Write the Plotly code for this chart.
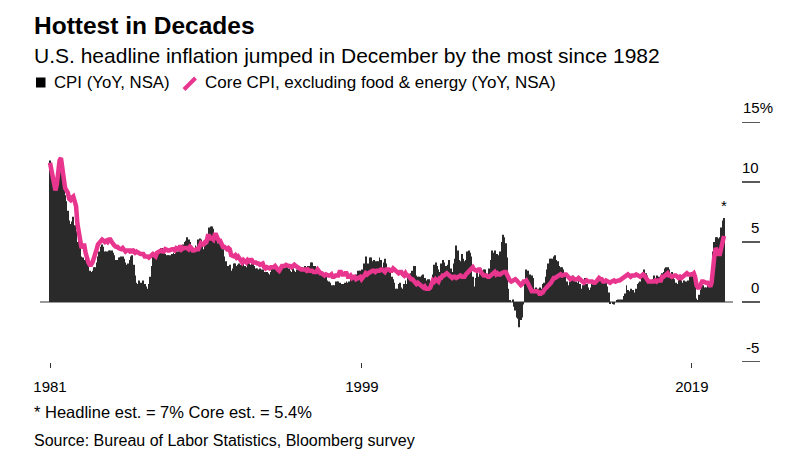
import plotly.graph_objects as go

# ---------------- data ----------------
start_year = 1981
end_year = 2021

cpi_yoy = [
    11.8, 11.4, 10.5, 10.0, 9.8, 9.6, 10.8, 10.8, 11.0, 10.1, 9.6, 8.9,   # 1981
    8.4, 7.6, 6.8, 6.5, 6.7, 7.1, 6.4, 5.9, 5.0, 5.1, 4.6, 3.8,           # 1982
    3.7, 3.5, 3.6, 3.9, 3.5, 2.6, 2.5, 2.6, 2.9, 2.9, 3.3, 3.8,           # 1983
    4.2, 4.6, 4.8, 4.6, 4.2, 4.2, 4.2, 4.3, 4.3, 4.3, 4.1, 3.9,           # 1984
    3.5, 3.5, 3.7, 3.7, 3.8, 3.8, 3.6, 3.3, 3.1, 3.2, 3.5, 3.8,           # 1985
    3.9, 3.1, 2.2, 1.6, 1.5, 1.8, 1.6, 1.6, 1.8, 1.5, 1.3, 1.1,           # 1986
    1.5, 2.1, 3.0, 3.8, 3.9, 3.7, 3.9, 4.3, 4.4, 4.5, 4.5, 4.4,           # 1987
    4.0, 3.9, 3.9, 3.9, 3.9, 4.0, 4.1, 4.0, 4.2, 4.2, 4.2, 4.4,           # 1988
    4.7, 4.8, 5.0, 5.1, 5.4, 5.2, 5.0, 4.7, 4.3, 4.5, 4.7, 4.6,           # 1989
    5.2, 5.3, 5.2, 4.7, 4.4, 4.7, 4.8, 5.6, 6.2, 6.3, 6.3, 6.1,           # 1990
    5.7, 5.3, 4.9, 4.9, 5.0, 4.7, 4.4, 3.8, 3.4, 2.9, 3.0, 3.1,           # 1991
    2.6, 2.8, 3.2, 3.2, 3.0, 3.1, 3.2, 3.1, 3.0, 3.2, 3.0, 2.9,           # 1992
    3.3, 3.2, 3.1, 3.2, 3.2, 3.0, 2.8, 2.8, 2.7, 2.8, 2.7, 2.7,           # 1993
    2.5, 2.5, 2.5, 2.4, 2.3, 2.5, 2.8, 2.9, 3.0, 2.6, 2.7, 2.7,           # 1994
    2.8, 2.9, 2.9, 3.1, 3.2, 3.0, 2.8, 2.6, 2.5, 2.8, 2.6, 2.5,           # 1995
    2.7, 2.7, 2.8, 2.9, 2.9, 2.8, 3.0, 2.9, 3.0, 3.0, 3.3, 3.3,           # 1996
    3.0, 3.0, 2.8, 2.5, 2.2, 2.3, 2.2, 2.2, 2.2, 2.1, 1.8, 1.7,           # 1997
    1.6, 1.4, 1.4, 1.4, 1.7, 1.7, 1.7, 1.6, 1.5, 1.5, 1.5, 1.6,           # 1998
    1.7, 1.6, 1.7, 2.3, 2.1, 2.0, 2.1, 2.3, 2.6, 2.6, 2.6, 2.7,           # 1999
    2.7, 3.2, 3.8, 3.1, 3.2, 3.7, 3.7, 3.4, 3.5, 3.4, 3.4, 3.4,           # 2000
    3.7, 3.5, 2.9, 3.3, 3.6, 3.2, 2.7, 2.7, 2.6, 2.1, 1.9, 1.6,           # 2001
    1.1, 1.1, 1.5, 1.6, 1.2, 1.1, 1.5, 1.8, 1.5, 2.0, 2.2, 2.4,           # 2002
    2.6, 3.0, 3.0, 2.2, 2.1, 2.1, 2.1, 2.2, 2.3, 2.0, 1.8, 1.9,           # 2003
    1.9, 1.7, 1.7, 2.3, 3.1, 3.3, 3.0, 2.7, 2.5, 3.2, 3.5, 3.3,           # 2004
    3.0, 3.0, 3.1, 3.5, 2.8, 2.5, 3.2, 3.6, 4.7, 4.3, 3.5, 3.4,           # 2005
    4.0, 3.6, 3.4, 3.5, 4.2, 4.3, 4.1, 3.8, 2.1, 1.3, 2.0, 2.5,           # 2006
    2.1, 2.4, 2.8, 2.6, 2.7, 2.7, 2.4, 2.0, 2.8, 3.5, 4.3, 4.1,           # 2007
    4.3, 4.0, 4.0, 3.9, 4.2, 5.0, 5.6, 5.4, 4.9, 3.7, 1.1, 0.1,           # 2008
    0.0, 0.2, -0.4, -0.7, -1.3, -1.4, -2.1, -1.5, -1.3, -0.2, 1.8, 2.7,   # 2009
    2.6, 2.1, 2.3, 2.2, 2.0, 1.1, 1.2, 1.1, 1.1, 1.2, 1.1, 1.5,           # 2010
    1.6, 2.1, 2.7, 3.2, 3.6, 3.6, 3.6, 3.8, 3.9, 3.5, 3.4, 3.0,           # 2011
    2.9, 2.9, 2.7, 2.3, 1.7, 1.7, 1.4, 1.7, 2.0, 2.2, 1.8, 1.7,           # 2012
    1.6, 2.0, 1.5, 1.1, 1.4, 1.8, 2.0, 1.5, 1.2, 1.0, 1.2, 1.5,           # 2013
    1.6, 1.1, 1.5, 2.0, 2.1, 2.1, 2.0, 1.7, 1.7, 1.7, 1.3, 0.8,           # 2014
    -0.1, 0.0, -0.1, -0.2, 0.0, 0.1, 0.2, 0.2, 0.0, 0.2, 0.5, 0.7,        # 2015
    1.4, 1.0, 0.9, 1.1, 1.0, 1.0, 0.8, 1.1, 1.5, 1.6, 1.7, 2.1,           # 2016
    2.5, 2.7, 2.4, 2.2, 1.9, 1.6, 1.7, 1.9, 2.2, 2.0, 2.2, 2.1,           # 2017
    2.1, 2.2, 2.4, 2.5, 2.8, 2.9, 2.9, 2.7, 2.3, 2.5, 2.2, 1.9,           # 2018
    1.6, 1.5, 1.9, 2.0, 1.8, 1.6, 1.8, 1.7, 1.7, 1.8, 2.1, 2.3,           # 2019
    2.5, 2.3, 1.5, 0.3, 0.1, 0.6, 1.0, 1.3, 1.4, 1.2, 1.2, 1.4,           # 2020
    1.4, 1.7, 2.6, 4.2, 5.0, 5.4, 5.4, 5.3, 5.4, 6.2, 6.8, 7.0,           # 2021
]

core_yoy = [
    11.6, 11.0, 10.3, 9.6, 9.3, 9.8, 11.0, 11.8, 12.0, 11.0, 10.2, 9.5,   # 1981
    9.3, 9.1, 8.6, 8.5, 8.7, 8.8, 8.4, 8.0, 6.5, 5.9, 5.3, 4.5,           # 1982
    4.7, 4.7, 4.1, 3.5, 3.3, 3.1, 3.1, 3.3, 3.8, 4.2, 4.4, 4.8,           # 1983
    5.0, 5.1, 5.2, 5.1, 5.0, 5.1, 5.0, 5.2, 5.2, 5.0, 4.8, 4.7,           # 1984
    4.6, 4.6, 4.5, 4.4, 4.4, 4.5, 4.4, 4.2, 4.3, 4.3, 4.3, 4.1,           # 1985
    4.4, 4.2, 4.1, 4.2, 4.1, 4.0, 4.0, 4.0, 4.0, 3.8, 3.8, 3.8,           # 1986
    3.7, 3.8, 3.9, 4.0, 3.9, 3.8, 4.1, 4.2, 4.2, 4.3, 4.2, 4.2,           # 1987
    4.4, 4.3, 4.3, 4.3, 4.4, 4.4, 4.4, 4.3, 4.5, 4.4, 4.4, 4.7,           # 1988
    4.4, 4.5, 4.5, 4.5, 4.5, 4.4, 4.6, 4.5, 4.3, 4.3, 4.4, 4.4,           # 1989
    4.4, 4.6, 4.9, 4.8, 4.8, 5.0, 5.0, 5.5, 5.5, 5.3, 5.3, 5.2,           # 1990
    5.6, 5.6, 5.2, 5.1, 5.1, 4.8, 4.6, 4.6, 4.5, 4.4, 4.5, 4.4,           # 1991
    3.9, 3.8, 3.8, 3.9, 3.7, 3.8, 3.6, 3.4, 3.3, 3.5, 3.4, 3.3,           # 1992
    3.5, 3.4, 3.5, 3.5, 3.3, 3.3, 3.3, 3.2, 3.2, 3.1, 3.2, 3.2,           # 1993
    2.9, 2.8, 2.9, 2.8, 2.8, 2.9, 2.9, 2.9, 3.0, 2.8, 2.7, 2.6,           # 1994
    2.9, 3.0, 3.0, 3.0, 3.1, 3.0, 3.0, 3.0, 2.9, 3.0, 3.1, 3.0,           # 1995
    2.9, 2.9, 2.7, 2.7, 2.7, 2.7, 2.7, 2.6, 2.7, 2.6, 2.6, 2.6,           # 1996
    2.5, 2.5, 2.5, 2.7, 2.5, 2.4, 2.4, 2.3, 2.2, 2.3, 2.2, 2.2,           # 1997
    2.2, 2.3, 2.1, 2.1, 2.2, 2.2, 2.2, 2.5, 2.5, 2.3, 2.3, 2.4,           # 1998
    2.4, 2.1, 2.1, 2.2, 2.0, 2.1, 2.1, 1.9, 2.0, 2.1, 2.1, 1.9,           # 1999
    2.0, 2.2, 2.4, 2.3, 2.4, 2.5, 2.5, 2.6, 2.6, 2.5, 2.6, 2.6,           # 2000
    2.6, 2.7, 2.7, 2.6, 2.5, 2.7, 2.7, 2.7, 2.6, 2.6, 2.8, 2.7,           # 2001
    2.6, 2.6, 2.4, 2.5, 2.5, 2.3, 2.2, 2.4, 2.2, 2.2, 2.0, 1.9,           # 2002
    1.9, 1.7, 1.7, 1.5, 1.6, 1.5, 1.5, 1.3, 1.2, 1.3, 1.1, 1.1,           # 2003
    1.1, 1.2, 1.6, 1.8, 1.7, 1.9, 1.8, 1.7, 2.0, 2.0, 2.2, 2.2,           # 2004
    2.3, 2.4, 2.3, 2.2, 2.2, 2.0, 2.1, 2.1, 2.0, 2.1, 2.1, 2.2,           # 2005
    2.1, 2.1, 2.1, 2.3, 2.4, 2.6, 2.7, 2.8, 2.9, 2.7, 2.6, 2.6,           # 2006
    2.7, 2.7, 2.5, 2.3, 2.2, 2.2, 2.2, 2.1, 2.1, 2.2, 2.3, 2.4,           # 2007
    2.5, 2.3, 2.4, 2.3, 2.3, 2.4, 2.5, 2.5, 2.5, 2.2, 2.0, 1.8,           # 2008
    1.7, 1.8, 1.8, 1.9, 1.8, 1.7, 1.5, 1.4, 1.5, 1.7, 1.7, 1.8,           # 2009
    1.6, 1.3, 1.1, 0.9, 0.9, 0.9, 0.9, 0.9, 0.8, 0.6, 0.8, 0.8,           # 2010
    1.0, 1.1, 1.2, 1.3, 1.5, 1.6, 1.8, 2.0, 2.0, 2.1, 2.2, 2.2,           # 2011
    2.3, 2.2, 2.3, 2.3, 2.3, 2.2, 2.1, 1.9, 2.0, 2.0, 1.9, 1.9,           # 2012
    1.9, 2.0, 1.9, 1.7, 1.7, 1.6, 1.7, 1.8, 1.7, 1.7, 1.7, 1.7,           # 2013
    1.6, 1.6, 1.7, 1.8, 2.0, 1.9, 1.9, 1.7, 1.7, 1.8, 1.7, 1.6,           # 2014
    1.6, 1.7, 1.8, 1.8, 1.7, 1.8, 1.8, 1.8, 1.9, 1.9, 2.0, 2.1,           # 2015
    2.2, 2.3, 2.2, 2.1, 2.2, 2.2, 2.2, 2.3, 2.2, 2.1, 2.1, 2.2,           # 2016
    2.3, 2.2, 2.0, 1.9, 1.7, 1.7, 1.7, 1.7, 1.7, 1.8, 1.7, 1.8,           # 2017
    1.8, 1.8, 2.1, 2.1, 2.2, 2.3, 2.4, 2.2, 2.2, 2.1, 2.2, 2.2,           # 2018
    2.2, 2.1, 2.0, 2.1, 2.0, 2.1, 2.2, 2.4, 2.4, 2.3, 2.3, 2.3,           # 2019
    2.3, 2.4, 2.1, 1.4, 1.2, 1.2, 1.6, 1.7, 1.7, 1.6, 1.6, 1.6,           # 2020
    1.4, 1.3, 1.6, 3.0, 3.8, 4.5, 4.3, 4.0, 4.0, 4.6, 4.9, 5.5,           # 2021
]

months = [f"{y}-{m:02d}-01" for y in range(start_year, end_year + 1) for m in range(1, 13)]

x_tick_vals = ["1981-01-01", "1999-12-10", "2019-12-20"]
x_tick_text = ["1981", "1999", "2019"]
y_tick_vals = [15, 10, 5, 0, -5]
y_tick_text = ["15", "10", "5", "0", "-5"]
y_tick_suffix = ["%", "", "", "", ""]

title = "Hottest in Decades"
subtitle = "U.S. headline inflation jumped in December by the most since 1982"
legend_cpi = "CPI (YoY, NSA)"
legend_core = "Core CPI, excluding food & energy (YoY, NSA)"
footnote = "* Headline est. = 7% Core est. = 5.4%"
source = "Source: Bureau of Labor Statistics, Bloomberg survey"

# ---------------- layout helpers ----------------
W, H = 800, 460
PL, PR, PT, PB = 40, 733, 122, 362   # plot area in pixels
FONT = "Liberation Sans, Arial, Helvetica, sans-serif"
PINK = "#e8368f"
BAR = "#2a2a2a"


def px_x(px):
    return (px - PL) / (PR - PL)


def px_y(py):
    return (PB - py) / (PB - PT)


fig = go.Figure()
fig.add_trace(go.Bar(x=months, y=cpi_yoy, marker=dict(color=BAR, line=dict(width=0)),
                     name=legend_cpi, showlegend=False, hoverinfo="skip"))
fig.add_trace(go.Scatter(x=months, y=core_yoy, mode="lines",
                         line=dict(color=PINK, width=4.5), name=legend_core, showlegend=False,
                         hoverinfo="skip"))

annotations = []
shapes = []

# Title block
annotations.append(dict(text=f"<b>{title}</b>", xref="paper", yref="paper", x=px_x(32), y=px_y(25),
                        xanchor="left", yanchor="middle", showarrow=False,
                        font=dict(size=24.5, color="#000", family=FONT)))
annotations.append(dict(text=subtitle, xref="paper", yref="paper", x=px_x(32), y=px_y(55),
                        xanchor="left", yanchor="middle", showarrow=False,
                        font=dict(size=21, color="#000", family=FONT)))
# Legend
shapes.append(dict(type="rect", xref="paper", yref="paper", x0=px_x(36), x1=px_x(45.5),
                   y0=px_y(87.5), y1=px_y(77.5), fillcolor="#000", line=dict(width=0)))
annotations.append(dict(text=legend_cpi, xref="paper", yref="paper", x=px_x(51.5), y=px_y(83),
                        xanchor="left", yanchor="middle", showarrow=False,
                        font=dict(size=16.8, color="#000", family=FONT)))
shapes.append(dict(type="line", xref="paper", yref="paper", x0=px_x(184), x1=px_x(195.5),
                   y0=px_y(89.5), y1=px_y(78), line=dict(color=PINK, width=4)))
annotations.append(dict(text=legend_core, xref="paper", yref="paper", x=px_x(203), y=px_y(83),
                        xanchor="left", yanchor="middle", showarrow=False,
                        font=dict(size=17, color="#000", family=FONT)))

# Y-axis ticks (right side, label above short tick line)
for v, t, s in zip(y_tick_vals, y_tick_text, y_tick_suffix):
    shapes.append(dict(type="line", xref="paper", yref="y", x0=px_x(742), x1=px_x(760),
                       y0=v, y1=v, line=dict(color="#222", width=1.5)))
    if s:
        annotations.append(dict(text=t + s, xref="paper", yref="y", x=px_x(741), y=v,
                                xanchor="left", yanchor="middle", yshift=15, showarrow=False,
                                font=dict(size=15, color="#000", family=FONT)))
    else:
        annotations.append(dict(text=t, xref="paper", yref="y", x=px_x(761), y=v,
                                xanchor="right", yanchor="middle", yshift=15, showarrow=False,
                                font=dict(size=15, color="#000", family=FONT)))

# Star above the latest bar
annotations.append(dict(text="*", x=months[-1], y=cpi_yoy[-1], xref="x", yref="y",
                        xanchor="center", yanchor="bottom", yshift=2, showarrow=False,
                        font=dict(size=15, color="#000", family=FONT)))

# Footnote and source
annotations.append(dict(text=footnote, xref="paper", yref="paper", x=px_x(32), y=px_y(412),
                        xanchor="left", yanchor="middle", showarrow=False,
                        font=dict(size=16.5, color="#000", family=FONT)))
annotations.append(dict(text=source, xref="paper", yref="paper", x=px_x(32), y=px_y(440),
                        xanchor="left", yanchor="middle", showarrow=False,
                        font=dict(size=16, color="#000", family=FONT)))

fig.update_layout(
    width=W, height=H,
    margin=dict(l=PL, r=W - PR, t=PT, b=H - PB, pad=0),
    paper_bgcolor="#fff", plot_bgcolor="#fff",
    bargap=0.3,
    showlegend=False,
    hovermode=False,
    annotations=annotations,
    shapes=shapes,
    font=dict(family=FONT, color="#000"),
)
fig.update_xaxes(
    type="date", range=["1980-05-24", "2022-06-19"],
    tickvals=x_tick_vals, ticktext=x_tick_text,
    ticks="outside", ticklen=5, tickwidth=1, tickcolor="#333",
    ticklabelstandoff=6,
    showgrid=False, showline=False, zeroline=False,
    tickfont=dict(size=15, color="#000", family=FONT),
)
fig.update_yaxes(
    range=[-5, 15], showticklabels=False, showgrid=False, ticks="",
    zeroline=True, zerolinecolor="#9a9a9a", zerolinewidth=1.5, showline=False,
)

fig.write_html("out.html", config={"displayModeBar": False},
               post_script="document.body.style.margin='0';")
